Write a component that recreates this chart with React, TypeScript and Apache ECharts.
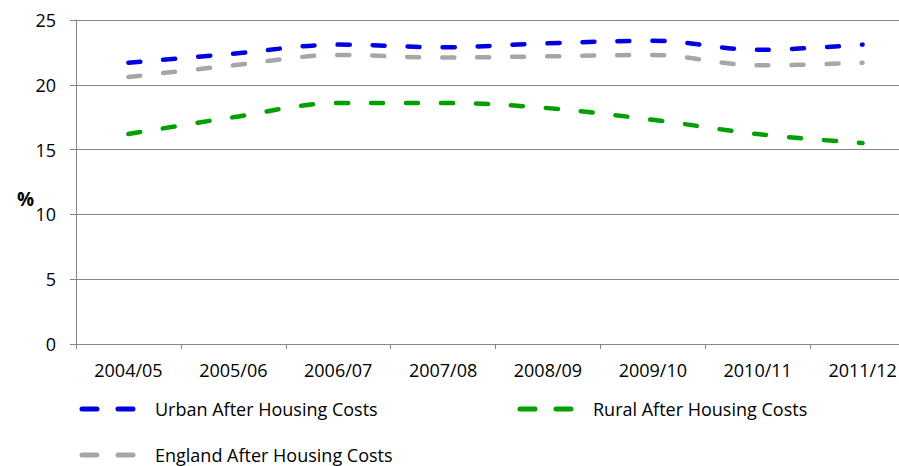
import React, { useEffect, useRef } from "react";
import * as echarts from "echarts";

const categories = ["2004/05", "2005/06", "2006/07", "2007/08", "2008/09", "2009/10", "2010/11", "2011/12"];
const urbanAHC = [21.7, 22.4, 23.1, 22.9, 23.2, 23.4, 22.7, 23.1];
const ruralAHC = [16.2, 17.5, 18.6, 18.6, 18.2, 17.3, 16.2, 15.5];
const englandAHC = [20.6, 21.5, 22.3, 22.1, 22.2, 22.3, 21.5, 21.7];
const seriesNames = ["Urban After Housing Costs", "Rural After Housing Costs", "England After Housing Costs"];
const yTicks = { min: 0, max: 25, interval: 5 };

const FONT = "'Open Sans', 'Liberation Sans', sans-serif";
const AXIS_COLOR = "#868686";
const COLORS = ["#0000E0", "#00A000", "#A6A6A6"];

export default function App() {
  const ref = useRef<HTMLDivElement>(null);
  useEffect(() => {
    if (!ref.current) return;
    const chart = echarts.init(ref.current, null, { renderer: "svg" });
    const dataSets = [urbanAHC, ruralAHC, englandAHC];
    const legendPos = [
      { left: 79.5, top: 400 },
      { left: 517.5, top: 400 },
      { left: 79.5, top: 446 },
    ];
    chart.setOption({
      animation: false,
      textStyle: { fontFamily: FONT },
      grid: { left: 76, top: 20, width: 839, height: 324, containLabel: false },
      xAxis: {
        type: "category",
        data: categories,
        boundaryGap: true,
        axisLine: { lineStyle: { color: AXIS_COLOR, width: 1 } },
        axisTick: { show: true, length: 5, lineStyle: { color: AXIS_COLOR } },
        axisLabel: { color: "#000", fontSize: 18, margin: 17, fontFamily: FONT, interval: 0 },
        splitLine: { show: false },
      },
      yAxis: {
        type: "value",
        min: yTicks.min,
        max: yTicks.max,
        interval: yTicks.interval,
        axisLine: { show: true, lineStyle: { color: AXIS_COLOR, width: 1 } },
        axisTick: { show: true, length: 6, lineStyle: { color: AXIS_COLOR } },
        axisLabel: { color: "#000", fontSize: 18, margin: 20, fontFamily: FONT },
        splitLine: { show: true, lineStyle: { color: AXIS_COLOR, width: 1 } },
      },
      legend: seriesNames.map((name, i) => ({
        data: [name],
        left: legendPos[i].left,
        top: legendPos[i].top,
        itemWidth: 51,
        itemHeight: 14,
        padding: 0,
        selectedMode: false,
        itemStyle: { opacity: 0 },
        textStyle: { color: "#000", fontSize: 18, fontFamily: FONT, padding: [0, 0, 0, 17] },
        lineStyle: { type: [15, 21], width: 5, cap: "round", color: COLORS[i] },
      })),
      graphic: [
        {
          type: "text",
          left: 17,
          top: 189,
          style: { text: "%", font: `bold 19px ${FONT}`, fill: "#000" },
        },
      ],
      series: seriesNames.map((name, i) => ({
        name,
        type: "line",
        data: dataSets[i],
        smooth: 0.35,
        symbol: "none",
        color: COLORS[i],
        lineStyle: { color: COLORS[i], width: 4.5, type: [12, 23], cap: "round" },
      })),
    });
    return () => chart.dispose();
  }, []);
  return (
    <div style={{ position: "fixed", left: 0, top: 0, width: 899, height: 466, overflow: "hidden", background: "#fff" }}>
      <div ref={ref} style={{ width: 930, height: 466 }} />
    </div>
  );
}
